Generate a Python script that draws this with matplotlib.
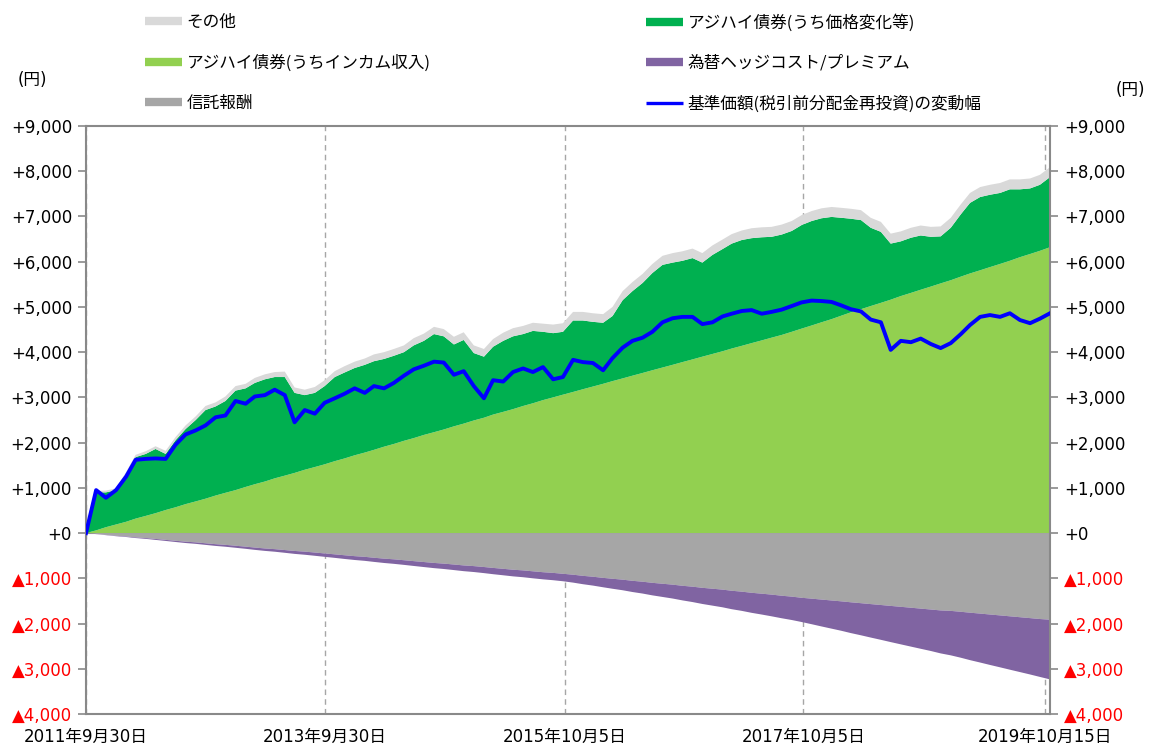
import numpy as np
import pandas as pd
import matplotlib
matplotlib.use('Agg')
import matplotlib.pyplot as plt
from matplotlib.lines import Line2D

plt.rcParams['font.family'] = ['DejaVu Sans', 'Noto Sans CJK JP']

# month-end dates, 2011/9 - 2019/10
dates = pd.date_range('2011-09-30', periods=98, freq='ME')

# 基準価額の変動幅 (円)
nav = [0, 950, 780, 950, 1250, 1620, 1640, 1650, 1640, 1950,
       2180, 2270, 2380, 2560, 2600, 2920, 2860, 3020, 3050, 3170,
       3050, 2450, 2720, 2640, 2880, 2980, 3080, 3200, 3100, 3250,
       3200, 3320, 3480, 3620, 3700, 3790, 3770, 3500, 3580, 3250,
       2980, 3380, 3350, 3560, 3640, 3560, 3670, 3400, 3450, 3830,
       3780, 3760, 3600, 3870, 4100, 4250, 4320, 4450, 4660, 4750,
       4780, 4780, 4620, 4660, 4790, 4850, 4910, 4930, 4850, 4890,
       4940, 5020, 5100, 5140, 5130, 5110, 5030, 4950, 4900, 4720,
       4660, 4050, 4250, 4220, 4300, 4180, 4090, 4200, 4400, 4600,
       4780, 4820, 4780, 4860, 4710, 4640, 4740, 4860]

# アジハイ債券(うちインカム収入)
income = [0, 60, 130, 190, 250, 320, 380, 440, 510, 570,
          640, 700, 760, 830, 890, 950, 1020, 1080, 1140, 1210,
          1270, 1330, 1400, 1460, 1520, 1590, 1650, 1720, 1780, 1840,
          1910, 1970, 2040, 2100, 2170, 2230, 2290, 2360, 2420, 2490,
          2550, 2620, 2680, 2740, 2810, 2870, 2940, 3000, 3060, 3120,
          3180, 3240, 3300, 3360, 3420, 3480, 3540, 3600, 3660, 3720,
          3780, 3840, 3900, 3960, 4020, 4080, 4140, 4200, 4260, 4320,
          4380, 4450, 4520, 4590, 4660, 4730, 4810, 4880, 4950, 5020,
          5090, 5160, 5240, 5310, 5380, 5450, 5520, 5590, 5670, 5740,
          5810, 5880, 5950, 6020, 6100, 6170, 6240, 6320]

# アジハイ債券(うち価格変化等)
price_chg = [0, 840, 770, 760, 1050, 1360, 1370, 1420, 1240, 1480,
             1660, 1800, 1960, 1970, 2030, 2200, 2180, 2240, 2260, 2240,
             2180, 1770, 1650, 1640, 1730, 1860, 1900, 1930, 1940, 1960,
             1940, 1950, 1960, 2050, 2080, 2170, 2060, 1810, 1850, 1490,
             1350, 1500, 1570, 1610, 1590, 1600, 1510, 1420, 1390, 1580,
             1520, 1430, 1350, 1440, 1730, 1870, 1990, 2150, 2270, 2260,
             2240, 2240, 2080, 2190, 2260, 2320, 2340, 2320, 2280, 2230,
             2220, 2230, 2290, 2310, 2300, 2260, 2160, 2070, 1970, 1730,
             1570, 1240, 1210, 1220, 1200, 1100, 1040, 1160, 1380, 1560,
             1620, 1600, 1570, 1580, 1500, 1450, 1460, 1550]

# その他
other = [0, 30, 40, 40, 50, 50, 60, 60, 70, 70,
         80, 80, 90, 90, 100, 100, 100, 110, 110, 110,
         120, 120, 120, 130, 130, 130, 140, 140, 140, 150,
         150, 150, 150, 160, 160, 160, 160, 170, 170, 170,
         170, 170, 180, 180, 180, 180, 180, 190, 190, 190,
         190, 190, 190, 200, 200, 200, 200, 200, 200, 210,
         210, 210, 210, 210, 210, 210, 210, 220, 220, 220,
         220, 220, 220, 220, 220, 220, 220, 220, 220, 220,
         220, 220, 220, 220, 220, 220, 220, 220, 220, 220,
         220, 220, 220, 220, 220, 220, 220, 220]

# 信託報酬
fee = [0, -20, -40, -60, -75, -95, -110, -130, -150, -170,
       -190, -205, -225, -245, -260, -280, -300, -320, -340, -355,
       -375, -395, -410, -430, -450, -470, -490, -510, -525, -545,
       -565, -580, -600, -620, -640, -660, -675, -695, -715, -730,
       -750, -770, -790, -810, -825, -845, -865, -880, -900, -920,
       -945, -965, -990, -1010, -1030, -1055, -1075, -1100, -1120, -1140,
       -1165, -1185, -1210, -1230, -1250, -1275, -1295, -1320, -1340, -1360,
       -1385, -1405, -1430, -1450, -1470, -1490, -1510, -1530, -1550, -1570,
       -1590, -1610, -1630, -1650, -1670, -1690, -1710, -1720, -1740, -1760,
       -1780, -1800, -1820, -1840, -1860, -1880, -1900, -1915]

# 為替ヘッジコスト/プレミアム
hedge = [0, -3, -6, -9, -12, -15, -18, -21, -24, -27,
         -30, -33, -36, -39, -42, -45, -48, -51, -54, -57,
         -61, -65, -69, -72, -75, -78, -82, -85, -89, -92,
         -96, -100, -103, -107, -111, -115, -119, -123, -127, -131,
         -135, -139, -143, -147, -151, -155, -158, -162, -165, -175,
         -185, -196, -208, -221, -234, -248, -262, -277, -292, -307,
         -323, -340, -357, -374, -391, -408, -425, -443, -461, -480,
         -498, -517, -536, -565, -594, -623, -652, -681, -710, -740,
         -770, -800, -830, -860, -888, -917, -950, -983, -1016, -1049,
         -1082, -1115, -1148, -1180, -1213, -1246, -1280, -1320]

tick_dates = pd.to_datetime(['2011-09-30', '2013-09-30', '2015-10-05',
                             '2017-10-05', '2019-10-15'])
tick_labels = ['2011年9月30日', '2013年9月30日', '2015年10月5日',
               '2017年10月5日', '2019年10月15日']
yticks = list(range(-4000, 9001, 1000))

c_other = '#d9d9d9'
c_price = '#00b050'
c_income = '#92d050'
c_hedge = '#8064a2'
c_fee = '#a6a6a6'
c_nav = '#0000ff'
c_axis = '#898989'

fig = plt.figure(figsize=(11.51, 7.49), dpi=100)
ax = fig.add_axes([86 / 1151, 1 - 714 / 749, (1050 - 86) / 1151, (714 - 126) / 749])

ax.stackplot(dates, income, price_chg, other,
             colors=[c_income, c_price, c_other], linewidth=0)
ax.stackplot(dates, fee, hedge, colors=[c_fee, c_hedge], linewidth=0)
ax.plot(dates, nav, color=c_nav, lw=2.8, zorder=5)

ax.set_xlim(dates[0], dates[-1])
ax.set_ylim(-4000, 9000)

def ylab(v):
    return f'+{v:,}' if v >= 0 else f'▲{-v:,}'

ax.set_yticks(yticks, [ylab(v) for v in yticks])
ax.set_xticks(tick_dates, tick_labels)
ax.tick_params(axis='x', length=0, pad=10, labelsize=12, colors='black')
ax.tick_params(axis='y', length=6, width=1.2, color=c_axis, pad=4, labelsize=12)
for lab, v in zip(ax.get_yticklabels(), yticks):
    lab.set_color('red' if v < 0 else 'black')

ax.set_axisbelow(True)
ax.grid(axis='x', linestyle=(0, (4, 3)), color='#a6a6a6', lw=1)
for s in ax.spines.values():
    s.set_color(c_axis)
    s.set_linewidth(1.5)

# 横軸（0の位置）
sec = ax.secondary_xaxis(0, transform=ax.transData)
sec.set_xticks(tick_dates)
sec.tick_params(axis='x', direction='inout', length=14, width=1.2,
                color=c_axis, labelbottom=False)
sec.spines['bottom'].set_color(c_axis)
sec.spines['bottom'].set_linewidth(1.5)

ax2 = ax.twinx()
ax2.set_ylim(-4000, 9000)
ax2.set_yticks(yticks, [ylab(v) for v in yticks])
ax2.tick_params(axis='y', length=6, width=1.2, color=c_axis, pad=4, labelsize=12)
for lab, v in zip(ax2.get_yticklabels(), yticks):
    lab.set_color('red' if v < 0 else 'black')
for s in ax2.spines.values():
    s.set_visible(False)

fig.text(32 / 1151, 1 - 80 / 749, '(円)', ha='center', va='center', fontsize=12)
fig.text(1130 / 1151, 1 - 90 / 749, '(円)', ha='center', va='center', fontsize=12)

jp = ['Noto Sans CJK JP', 'DejaVu Sans']
h1 = [Line2D([], [], color=c_other, lw=6, solid_capstyle='butt'),
      Line2D([], [], color=c_income, lw=6, solid_capstyle='butt'),
      Line2D([], [], color=c_fee, lw=6, solid_capstyle='butt')]
l1 = ['その他', 'アジハイ債券(うちインカム収入)', '信託報酬']
h2 = [Line2D([], [], color=c_price, lw=6, solid_capstyle='butt'),
      Line2D([], [], color=c_hedge, lw=6, solid_capstyle='butt'),
      Line2D([], [], color=c_nav, lw=2.4, solid_capstyle='butt')]
l2 = ['アジハイ債券(うち価格変化等)', '為替ヘッジコスト/プレミアム', '基準価額(税引前分配金再投資)の変動幅']

leg_kw = dict(loc='upper left', frameon=False, borderpad=0, borderaxespad=0,
              handlelength=2.2, handletextpad=0.3, labelspacing=1.4,
              prop={'family': jp, 'size': 12})
leg1 = fig.legend(h1, l1, bbox_to_anchor=(145 / 1151, 1 - 14 / 749), **leg_kw)
leg2 = fig.legend(h2, l2, bbox_to_anchor=(646 / 1151, 1 - 14 / 749), **leg_kw)

fig.savefig('out.png', dpi=100)
